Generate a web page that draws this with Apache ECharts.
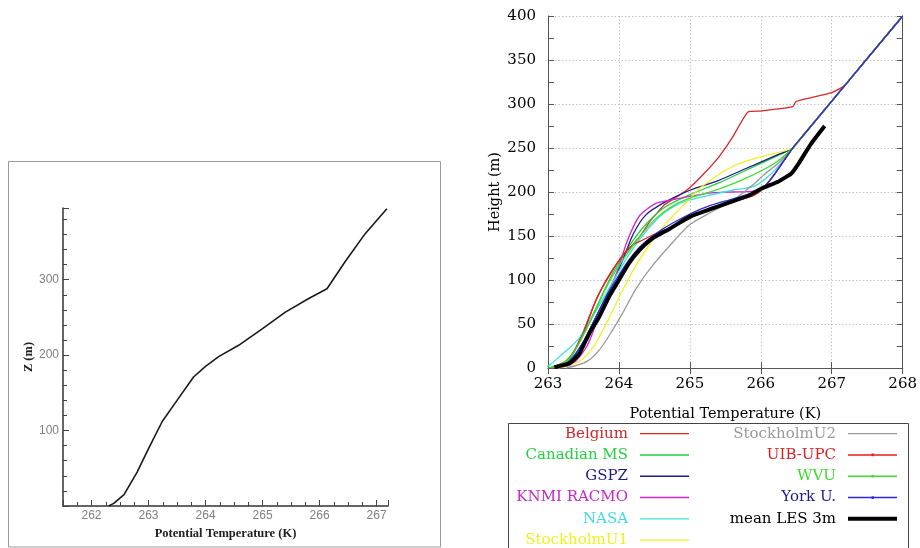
<!DOCTYPE html>
<html>
<head>
<meta charset="utf-8">
<script src="https://cdn.jsdelivr.net/npm/echarts@6/dist/echarts.min.js"></script>
<style>
html,body{margin:0;padding:0;background:#fff;}
#chart{width:920px;height:548px;}
</style>
</head>
<body>
<div id="chart"></div>
<script>
// ---------- DATA ----------
// Left panel: single profile [theta K, z m]
const leftProfile = [[262.3,0],[262.39,3.5],[262.57,15],[262.8,45],[263.0,76],[263.24,112],[263.5,140],[263.79,171],[264.0,185],[264.23,198],[264.58,213],[265.0,235],[265.4,257],[265.81,275],[266.13,288],[266.45,324],[266.8,361],[267.18,394]];

// Right panel: model profiles [theta K, height m]
const belgium = [[263.05,0],[263.3,10],[263.48,38],[263.65,72],[263.82,100],[264.0,122],[264.15,136],[264.3,150],[264.45,168],[264.65,186],[264.85,196],[265.0,205],[265.2,221],[265.41,240],[265.6,262],[265.82,291],[266.0,292],[266.45,297],[266.5,303],[267.0,313],[267.18,321],[267.5,352],[268,400]];
const canadianMS = [[263.0,0],[263.25,8],[263.45,30],[263.6,55],[263.75,81],[263.9,106],[264.05,126],[264.2,145],[264.4,165],[264.65,183],[265.0,197],[265.4,210],[265.8,225],[266.2,240],[266.45,250],[266.6,264.5],[268,400]];
const gspz = [[263.1,0],[263.3,6],[263.5,30],[263.7,62],[263.9,95],[264.05,122],[264.2,152],[264.38,174],[264.66,189],[265.0,202],[265.4,213],[265.8,227],[266.2,241],[266.45,250],[266.6,264.5],[268,400]];
const knmiRacmo = [[263.1,0],[263.35,5],[263.55,25],[263.7,55],[263.84,81],[263.98,111],[264.12,145],[264.29,173],[264.52,187],[264.75,191],[265.0,195],[265.3,199],[265.6,200],[265.9,201],[266.05,206],[266.2,221],[266.45,250],[266.6,264.5],[268,400]];
const nasa = [[262.96,0],[263.05,5],[263.19,15],[263.42,32],[263.6,55],[263.8,82],[264.0,110],[264.2,136],[264.4,157],[264.6,174],[264.85,187],[265.0,191],[265.25,196],[265.6,202],[265.92,207],[266.2,225],[266.45,250],[266.6,264.5],[268,400]];
const stockholmU1 = [[263.15,0],[263.45,8],[263.65,25],[263.85,55],[264.05,88],[264.25,118],[264.5,148],[264.75,172],[265.0,192],[265.15,205],[265.6,229],[266.0,240],[266.45,250],[266.6,264.5],[268,400]];
const stockholmU2 = [[263.26,0],[263.54,7],[263.72,20],[263.91,43],[264.05,62],[264.24,90],[264.47,116],[264.75,142],[265.0,163],[265.3,177],[265.6,190],[265.87,207],[266.05,220],[266.25,233],[266.45,250],[266.6,264.5],[268,400]];
const uibUpc = [[263.05,0],[263.3,10],[263.5,40],[263.68,78],[263.85,103],[264.05,128],[264.2,140],[264.3,144],[264.5,152],[264.8,162],[265.0,170],[265.32,183],[265.69,191],[265.9,196],[266.05,205],[266.2,221],[266.45,250],[266.6,264.5],[268,400]];
const wvu = [[263.05,0],[263.3,10],[263.5,38],[263.65,62],[263.8,88],[263.95,110],[264.1,128],[264.3,150],[264.55,172],[264.8,186],[265.0,193],[265.4,203],[265.8,216],[266.2,233],[266.45,250],[266.6,264.5],[268,400]];
const yorkU = [[263.1,0],[263.3,8],[263.5,30],[263.7,62],[263.9,92],[264.1,118],[264.3,138],[264.6,157],[265.0,175],[265.3,185],[265.6,192],[265.92,200],[266.02,204],[266.2,221],[266.45,250],[266.6,264.5],[268,400]];
const meanLES = [[263.09,1],[263.3,5],[263.44,16],[263.58,39],[263.72,58],[263.86,81],[264.0,100],[264.14,119],[264.29,134],[264.47,147],[264.71,158],[265.0,172],[265.31,181],[265.59,189],[265.83,196],[266.01,204],[266.25,212],[266.43,221],[266.53,232],[266.71,255],[266.9,275]];

const seriesNames = ['Belgium','Canadian MS','GSPZ','KNMI RACMO','NASA','StockholmU1','StockholmU2','UIB-UPC','WVU','York U.','mean LES 3m'];
const seriesData = [belgium, canadianMS, gspz, knmiRacmo, nasa, stockholmU1, stockholmU2, uibUpc, wvu, yorkU, meanLES];

// Axis ranges
const leftX = [261.5, 267.2];
const leftY = [0, 395];
const rightX = [263, 268];
const rightY = [0, 400];

// ---------- STYLE ----------
const lineColors = ['#d62828','#22d040','#1c1c88','#d424d4','#3ce0e0','#f0f020','#9a9a9a','#e02222','#40dd30','#2a2ad8','#000000'];
const textColors = ['#c82828','#22d040','#1c1c88','#c828c8','#40dcdc','#f0f020','#9a9a9a','#d82222','#40d830','#1c1c90','#000000'];
const ICON_THIN = 'path://M0,0L0.01,0L0.01,4L0,4Z M0,1.3L50,1.3L50,2.7L0,2.7Z';
const ICON_DOT = 'path://M0,0L0.01,0L0.01,4L0,4Z M0,1.3L50,1.3L50,2.7L0,2.7Z M24,0.6L26.4,0.6L26.4,3.4L24,3.4Z';
const ICON_THICK = 'rect';
const icons = [ICON_THIN,ICON_THIN,ICON_THIN,ICON_THIN,ICON_THIN,ICON_THIN,ICON_THIN,ICON_DOT,ICON_DOT,ICON_DOT,ICON_THICK];

const chart = echarts.init(document.getElementById('chart'), null, {renderer:'canvas'});

const serif = 'DejaVu Serif';

const series = [{
  name: 'leftProfile', type: 'line', xAxisIndex: 0, yAxisIndex: 0,
  data: leftProfile, showSymbol: false, symbol: 'none',
  lineStyle: {color: '#1a1a1a', width: 1.6}, silent: true
}];
seriesNames.forEach((n, i) => {
  const isMean = n === 'mean LES 3m';
  const isYork = n === 'York U.';
  series.push({
    name: n, type: 'line', xAxisIndex: 1, yAxisIndex: 1,
    data: seriesData[i], symbol: 'none', showSymbol: false,
    smooth: (n === 'Belgium' || isMean) ? 0.15 : 0.25,
    color: lineColors[i],
    lineStyle: {color: lineColors[i], width: isMean ? 4 : 1.3},
    silent: true, z: isMean ? 6 : (isYork ? 5 : 3)
  });
});

function legendData(from, to) {
  const out = [];
  for (let i = from; i < to; i++) {
    out.push({name: seriesNames[i], icon: icons[i], textStyle: {color: textColors[i]}});
  }
  return out;
}
const legendCommon = {
  orient: 'vertical', align: 'right', padding: 0, itemWidth: 49, itemHeight: 4, itemGap: 0,
  selectedMode: false, top: 423, height: 300,
  textStyle: {fontFamily: serif, fontSize: 15, lineHeight: 21.3, padding: [0, 7, 0, 0]}
};

const option = {
  animation: false,
  backgroundColor: '#ffffff',
  grid: [
    {left: 63, top: 208, width: 325, height: 298, show: false},
    {left: 548, top: 16, width: 357, height: 352, show: false}
  ],
  xAxis: [
    {
      type: 'value', gridIndex: 0, min: leftX[0], max: leftX[1], splitNumber: 5,
      name: 'Potential Temperature (K)', nameLocation: 'middle', nameGap: 15,
      nameTextStyle: {fontFamily: 'Liberation Serif', fontWeight: 'bold', fontSize: 12.5, color: '#222'},
      axisLine: {show: true, lineStyle: {color: '#333', width: 1.5}},
      axisTick: {show: true, inside: true, length: 6, lineStyle: {color: '#444'}},
      minorTick: {show: true, splitNumber: 4, length: 4, lineStyle: {color: '#444'}},
      axisLabel: {showMinLabel: false, showMaxLabel: false, margin: 4, fontFamily: 'Liberation Sans', fontSize: 12, color: '#808080',
        formatter: v => (Math.abs(v - Math.round(v)) < 1e-6 ? String(Math.round(v)) : '')},
      splitLine: {show: false}
    },
    {
      type: 'value', gridIndex: 1, min: rightX[0], max: rightX[1], interval: 1, position: 'bottom',
      name: 'Potential Temperature (K)', nameLocation: 'middle', nameGap: 39,
      nameTextStyle: {fontFamily: serif, fontSize: 14.5, color: '#000'},
      axisLine: {show: true, lineStyle: {color: '#555', width: 1}},
      axisTick: {show: true, inside: true, length: 6, lineStyle: {color: '#555'}},
      axisLabel: {margin: 9, fontFamily: serif, fontSize: 15, color: '#000'},
      splitLine: {show: true, lineStyle: {color: '#c4c4c4', type: [1.5, 2], width: 1}}
    },
    {
      type: 'value', gridIndex: 1, min: rightX[0], max: rightX[1], interval: 1, position: 'top',
      axisLine: {show: true, lineStyle: {color: '#555', width: 1}},
      axisTick: {show: true, inside: true, length: 6, lineStyle: {color: '#555'}},
      axisLabel: {show: false}, splitLine: {show: false}
    }
  ],
  yAxis: [
    {
      type: 'value', gridIndex: 0, min: leftY[0], max: leftY[1], interval: 100,
      name: 'Z (m)', nameLocation: 'middle', nameGap: 27, nameRotate: 90,
      nameTextStyle: {fontFamily: 'Liberation Serif', fontWeight: 'bold', fontSize: 12.5, color: '#222'},
      axisLine: {show: true, lineStyle: {color: '#333', width: 1.5}},
      axisTick: {show: true, inside: true, length: 6, lineStyle: {color: '#444'}},
      minorTick: {show: true, splitNumber: 5, length: 4, lineStyle: {color: '#444'}},
      axisLabel: {showMinLabel: false, showMaxLabel: false, margin: 4, fontFamily: 'Liberation Sans', fontSize: 12, color: '#808080'},
      splitLine: {show: false}
    },
    {
      type: 'value', gridIndex: 1, min: rightY[0], max: rightY[1], interval: 50, position: 'left',
      name: 'Height (m)', nameLocation: 'middle', nameGap: 45, nameRotate: 90,
      nameTextStyle: {fontFamily: serif, fontSize: 14.5, color: '#000'},
      axisLine: {show: true, lineStyle: {color: '#555', width: 1}},
      axisTick: {show: true, inside: true, length: 6, lineStyle: {color: '#555'}},
      minorTick: {show: true, splitNumber: 2, length: 6, lineStyle: {color: '#555'}},
      axisLabel: {margin: 12, fontFamily: serif, fontSize: 15, color: '#000'},
      splitLine: {show: true, lineStyle: {color: '#c4c4c4', type: [1.5, 2], width: 1}}
    },
    {
      type: 'value', gridIndex: 1, min: rightY[0], max: rightY[1], interval: 50, position: 'right',
      axisLine: {show: true, lineStyle: {color: '#555', width: 1}},
      axisTick: {show: true, inside: true, length: 6, lineStyle: {color: '#555'}},
      minorTick: {show: true, splitNumber: 2, length: 6, lineStyle: {color: '#555'}},
      axisLabel: {show: false}, splitLine: {show: false}
    }
  ],
  legend: [
    Object.assign({}, legendCommon, {right: 231, data: legendData(0, 6)}),
    Object.assign({}, legendCommon, {right: 23, data: legendData(6, 11)})
  ],
  graphic: [
    {type: 'rect', shape: {x: 8.5, y: 161.5, width: 432, height: 385.5}, style: {fill: 'none', stroke: '#9a9a9a', lineWidth: 1}, silent: true, z: -1},
    {type: 'rect', shape: {x: 508.5, y: 423.5, width: 400, height: 140}, style: {fill: 'none', stroke: '#444', lineWidth: 1}, silent: true, z: -1}
  ],
  series: series
};
chart.setOption(option);
</script>
</body>
</html>
